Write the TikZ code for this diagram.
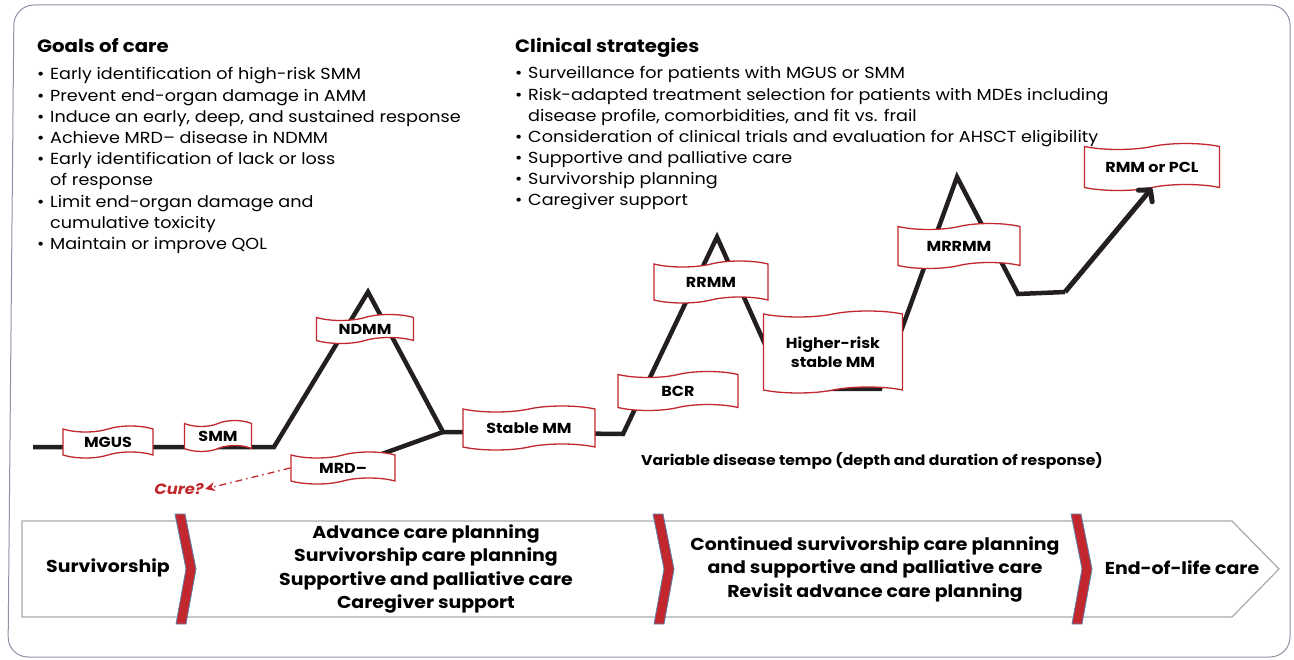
\documentclass[tikz,border=0pt]{standalone}
\usepackage{fontspec}
\setmainfont{Poppins}[FakeStretch=1.1]
\usetikzlibrary{shapes.symbols,arrows.meta}
\definecolor{flagred}{HTML}{C1272D}
\definecolor{ink}{HTML}{231F20}
\definecolor{framegray}{HTML}{8E93A3}
\definecolor{bandgray}{HTML}{A7A9AC}
\definecolor{chevborder}{HTML}{5A82AD}
\pgfdeclarelayer{background}
\pgfsetlayers{background,main}
\newcommand\bul{\makebox[13pt][l]{•}}
\begin{document}
\begin{tikzpicture}[x=1pt,y=-1pt,
  flag/.style={tape, draw=flagred, line width=1.3pt, fill=white, tape bend height=6pt,
    inner sep=0pt, font=\fontsize{14.5}{19}\selectfont\bfseries, align=center},
  timeline/.style={draw=ink, line width=4.5pt, line join=miter},
  listtext/.style={anchor=base west, inner sep=0pt},
  title/.style={anchor=base west, inner sep=0pt, font=\fontsize{17.9}{20}\selectfont\bfseries},
  bandtext/.style={inner sep=0pt, align=center, font=\fontsize{17.2}{23.5}\selectfont\bfseries},
]
\useasboundingbox (0,0) rectangle (1294,660);
% frame
\draw[framegray, line width=1pt, rounded corners=20pt] (14,5) -- (1290,5) -- (1290,657) -- (8,657) -- cycle;

% texts
\node[title] (goalsT) at (37,53) {Goals of care};
\node[listtext] (goals) at (37,80) {\parbox[t]{480pt}{\fontsize{16}{21.2}\selectfont\raggedright
\bul Early identification of high-risk SMM\\
\bul Prevent end-organ damage in AMM\\
\bul Induce an early, deep, and sustained response\\
\bul Achieve MRD– disease in NDMM\\
\bul Early identification of lack or loss\\
\hspace*{13pt}of response\\
\bul Limit end-organ damage and\\
\hspace*{13pt}cumulative toxicity\\
\bul Maintain or improve QOL}};

\node[title] (clinT) at (515,53) {Clinical strategies};
\node[listtext] (clin) at (515,79) {\parbox[t]{700pt}{\fontsize{16}{21.1}\selectfont\raggedright
\bul Surveillance for patients with MGUS or SMM\\
\bul Risk-adapted treatment selection for patients with MDEs including\\
\hspace*{13pt}disease profile, comorbidities, and fit vs. frail\\
\bul Consideration of clinical trials and evaluation for AHSCT eligibility\\
\bul Supportive and palliative care\\
\bul Survivorship planning\\
\bul Caregiver support}};

\node[inner sep=0pt, font=\fontsize{14.2}{15}\selectfont\bfseries] (tempo) at (872,461) {Variable disease tempo (depth and duration of response)};

% flags
\node[flag, minimum width=90pt, minimum height=32pt] (mgus) at (108,442) {MGUS};
\node[flag, minimum width=67pt, minimum height=31pt] (smm) at (218,436) {SMM};
\node[flag, minimum width=97pt, minimum height=29pt] (ndmm) at (365,329) {NDMM};
\node[flag, minimum width=104pt, minimum height=32pt] (mrd) at (343,468) {MRD–};
\node[flag, minimum width=132pt, minimum height=44pt] (stable) at (529,428) {Stable MM};
\node[flag, minimum width=120pt, minimum height=39pt] (bcr) at (678,391) {BCR};
\node[flag, minimum width=114pt, minimum height=42pt] (rrmm) at (711,282) {RRMM};
\node[flag, minimum width=139pt, minimum height=82pt] (hrs) at (833,352) {Higher-risk\\stable MM};
\node[flag, minimum width=122pt, minimum height=45pt] (mrrmm) at (959,246) {MRRMM};
\node[flag, minimum width=135pt, minimum height=47pt] (rmm) at (1152,167) {RMM or PCL};

\node[inner sep=1pt, text=flagred, font=\fontsize{14.9}{15}\selectfont\bfseries\itshape] (cure) at (179,489) {Cure?};

% timeline
\coordinate (a0) at (33,447);
\coordinate (a1) at (274,447);
\coordinate (a2) at (368,292);
\coordinate (a3) at (443,432);
\coordinate (a4) at (623,434);
\coordinate (a5) at (717,237);
\coordinate (a6) at (785,389);
\coordinate (a7) at (880,389);
\coordinate (a8) at (957,177);
\coordinate (a9) at (1018,294);
\coordinate (a10) at (1065,292);
\begin{pgfonlayer}{background}
\draw[timeline] (a0) -- (a1) -- (a2) -- (a3) -- (a4) -- (a5) -- (a6) -- (a7) -- (a8) -- (a9) -- (a10);
\draw[timeline] (a3) -- (mrd.center);
\end{pgfonlayer}
\draw[timeline, line width=5pt, -{Straight Barb[length=8pt,width=18pt,round]}] (a10) -- (rmm.south);
\draw[flagred, line width=1.3pt, dash pattern=on 7pt off 4pt on 1.5pt off 4pt,
  -{Stealth[length=10pt,width=9pt]}] (mrd.west) -- (cure.east);

% band
\draw[bandgray, line width=1.2pt, fill=white] (22,521) -- (1232,521) -- (1279,569) -- (1232,617) -- (22,617) -- cycle;
\foreach \cx in {175,653,1071}
  \filldraw[fill=flagred, draw=chevborder, line width=0.8pt] (\cx,514) -- ++(10,0) -- ++(11,55) -- ++(-10,55) -- ++(-10,0) -- ++(10,-55) -- cycle;
\node[bandtext] (surv) at (108,568) {Survivorship};
\node[bandtext] (mid) at (426,569) {Advance care planning\\Survivorship care planning\\Supportive and palliative care\\Caregiver support};
\node[bandtext] (cont) at (875,569) {Continued survivorship care planning\\and supportive and palliative care\\Revisit advance care planning};
\node[bandtext] (eol) at (1182,568) {End-of-life care};
\end{tikzpicture}
\end{document}
